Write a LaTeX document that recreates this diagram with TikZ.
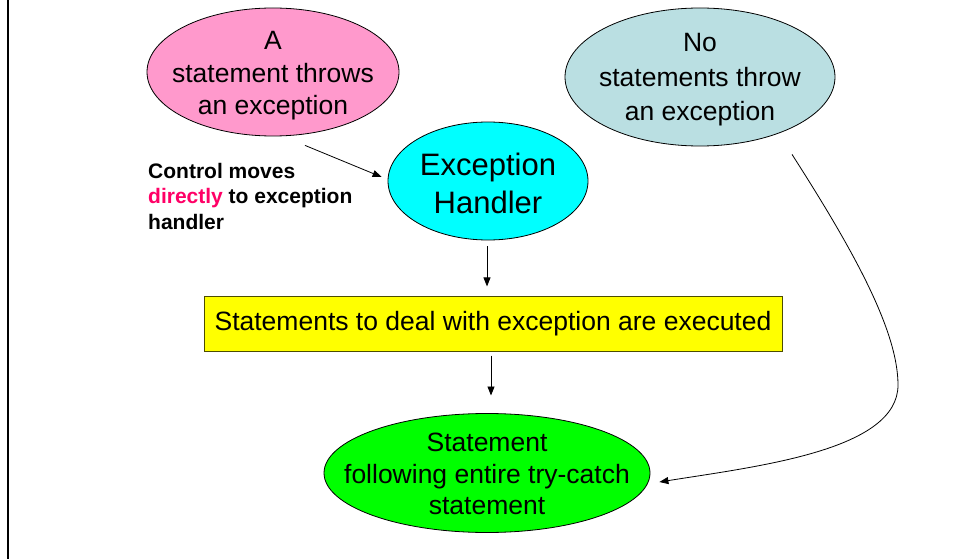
\documentclass[tikz,border=0pt]{standalone}
\usepackage{fontspec}
\setmainfont{Liberation Sans}
\usetikzlibrary{shapes.geometric,arrows.meta}
\definecolor{pinkf}{HTML}{FF99CC}
\definecolor{tealf}{HTML}{BADFE2}
\definecolor{cyanf}{HTML}{00FFFF}
\definecolor{yelf}{HTML}{FFFF00}
\definecolor{greenf}{HTML}{00FF00}
\definecolor{dirred}{HTML}{FF0066}
\definecolor{yborder}{HTML}{4D4D00}
\begin{document}
\begin{tikzpicture}[x=1pt,y=-1pt,
  ell/.style={ellipse, draw=black, line width=0.8pt, inner sep=0pt},
  txt/.style={align=center, inner sep=0pt, font=\fontsize{26.5}{32.5}\selectfont},
  arr/.style={line width=0.8pt, -{Triangle[length=9pt,width=7pt]}}]
\useasboundingbox (0,0) rectangle (954,559);
\draw[line width=2pt] (8,0) -- (8,559);
% ellipses
\node[ell, fill=pinkf, minimum width=252pt, minimum height=128pt] (pink) at (273,72) {};
\node[txt] (pinkt) at (273,76) {A\\statement throws\\an exception};
\node[ell, fill=tealf, minimum width=270pt, minimum height=138pt] (teal) at (700,77) {};
\node[txt, font=\fontsize{26.5}{34.5}\selectfont] (tealt) at (700,80) {No\\statements throw\\an exception};
\node[ell, fill=cyanf, minimum width=200pt, minimum height=118pt] (cyan) at (488,181) {};
\node[txt, font=\fontsize{31}{38}\selectfont] (cyant) at (488,183) {Exception\\Handler};
\node[ell, fill=greenf, minimum width=326pt, minimum height=119pt] (green) at (487,473) {};
\node[txt, font=\fontsize{26.5}{31.5}\selectfont] (greent) at (487,474) {Statement\\following entire try-catch\\statement};
% yellow box
\node[draw=yborder, fill=yelf, line width=1pt, minimum width=578pt, minimum height=55pt, inner sep=0pt,
  font=\fontsize{26.5}{32}\selectfont] (yel) at (493,323.5) {Statements to deal with exception are executed};
% label
\node[anchor=west, align=left, inner sep=0pt, font=\bfseries\fontsize{21}{25.5}\selectfont] (lbl) at (148,196)
  {Control moves\\\textcolor{dirred}{directly} to exception\\handler};
% connectors
\draw[arr] ([shift={(32,9)}]pink.south) -- ([shift={(-6,-4)}]cyan.west);
\draw[arr] ([shift={(-1,6)}]cyan.south) -- ++(0,40);
\draw[arr] ([shift={(-2,4)}]yel.south) -- ++(0,40);
\draw[arr] ([shift={(92,8)}]teal.south) .. controls (852,248) and (898,330) .. (898,385)
  .. controls (898,450) and (760,466) .. ([shift={(9,9)}]green.east);
\end{tikzpicture}
\end{document}
